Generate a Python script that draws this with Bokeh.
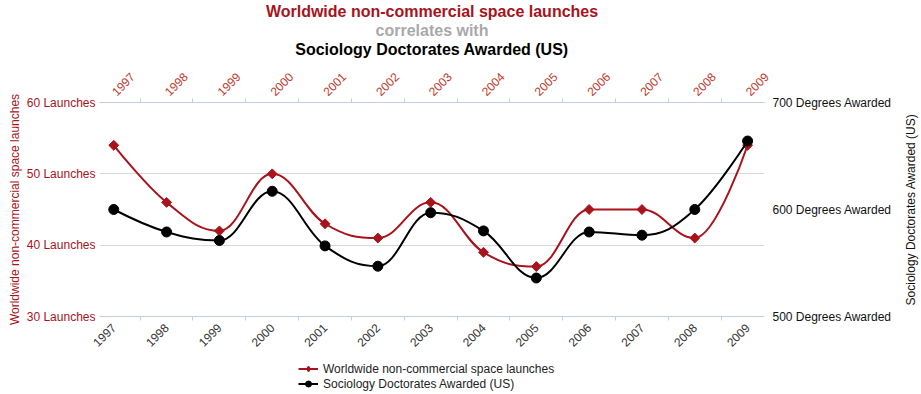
from math import pi
from bokeh.plotting import figure
from bokeh.layouts import row, column
from bokeh.models import (Range1d, LinearAxis, FixedTicker, PrintfTickFormatter, Title,
                          Legend, LegendItem, ColumnDataSource, Label)
from bokeh.embed import file_html
from bokeh.resources import INLINE

years = [1997, 1998, 1999, 2000, 2001, 2002, 2003, 2004, 2005, 2006, 2007, 2008, 2009]
launches = [54, 46, 42, 50, 43, 41, 46, 39, 37, 45, 45, 41, 54]
doctorates = [600, 579, 571, 617, 566, 547, 597, 580, 536, 579, 576, 600, 664]
launch_ticks = [30, 40, 50, 60]
degree_ticks = [500, 600, 700]
series_names = ["Worldwide non-commercial space launches", "Sociology Doctorates Awarded (US)"]

RED = "#a8131c"
AXIS = "#C0D0E0"
FONT = "Liberation Sans"


def spline(xs, ys, smoothing=1.5):
    """Highcharts-style spline control points (rendering geometry only)."""
    n = len(xs)
    lcx = [None] * n; lcy = [None] * n; rcx = [None] * n; rcy = [None] * n
    d = smoothing + 1
    for i in range(1, n - 1):
        px, py = xs[i], ys[i]
        lx, ly = xs[i - 1], ys[i - 1]
        nx, ny = xs[i + 1], ys[i + 1]
        a = (smoothing * px + lx) / d
        b = (smoothing * py + ly) / d
        c = (smoothing * px + nx) / d
        e = (smoothing * py + ny) / d
        corr = ((e - b) * (c - px)) / (c - a) + py - e if c != a else 0
        b += corr; e += corr
        if b > ly and b > py:
            b = max(ly, py); e = 2 * py - b
        elif b < ly and b < py:
            b = min(ly, py); e = 2 * py - b
        if e > ny and e > py:
            e = max(ny, py); b = 2 * py - e
        elif e < ny and e < py:
            e = min(ny, py); b = 2 * py - e
        lcx[i], lcy[i], rcx[i], rcy[i] = a, b, c, e
    out = dict(x0=[], y0=[], x1=[], y1=[], cx0=[], cy0=[], cx1=[], cy1=[])
    for i in range(1, n):
        out["x0"].append(xs[i - 1]); out["y0"].append(ys[i - 1])
        out["x1"].append(xs[i]); out["y1"].append(ys[i])
        out["cx0"].append(rcx[i - 1] if rcx[i - 1] is not None else xs[i - 1])
        out["cy0"].append(rcy[i - 1] if rcy[i - 1] is not None else ys[i - 1])
        out["cx1"].append(lcx[i] if lcx[i] is not None else xs[i])
        out["cy1"].append(lcy[i] if lcy[i] is not None else ys[i])
    return ColumnDataSource(out)


TOP, FRAME_H, MAIN_H = 102, 214, 356
x_lo, x_hi = years[0] - 0.27, years[-1] + 0.32
p = figure(frame_width=665, frame_height=FRAME_H, output_backend="svg", toolbar_location=None,
           x_range=Range1d(x_lo, x_hi),
           y_range=Range1d(launch_ticks[0], launch_ticks[-1]),
           title=series_names[0],
           min_border_left=99, min_border_right=135, min_border_top=TOP,
           min_border_bottom=MAIN_H - TOP - FRAME_H)
p.extra_y_ranges = {"deg": Range1d(degree_ticks[0], degree_ticks[-1])}
p.outline_line_color = None
p.background_fill_color = "white"

p.title.text_font = FONT
p.title.text_font_size = "16px"
p.title.text_font_style = "bold"
p.title.text_color = RED
p.title.align = "center"
p.title.standoff = 0

minor = [y + 0.5 for y in years[:-1]]

def style_x(ax, color):
    ax.ticker = FixedTicker(ticks=years, minor_ticks=minor)
    ax.major_tick_line_color = None
    ax.major_tick_out = 0
    ax.minor_tick_line_color = AXIS
    ax.minor_tick_out = 4
    ax.minor_tick_in = 0
    ax.axis_line_color = AXIS
    ax.axis_line_width = 1
    ax.major_label_orientation = pi / 4
    ax.major_label_standoff = 5
    ax.major_label_text_font = FONT
    ax.major_label_text_font_size = "12px"
    ax.major_label_text_color = color

style_x(p.xaxis[0], "#333333")
top = LinearAxis()
style_x(top, "#c0392b")
p.add_layout(top, "above")

# small invisible spacer between the top axis and the titles
p.add_layout(Title(text=" ", text_font=FONT, text_font_size="5px", standoff=0), "above")
for txt, col in [(series_names[1], "black"), ("correlates with", "#a9a9a9")]:
    p.add_layout(Title(text=txt, text_font=FONT, text_font_size="16px", text_font_style="bold",
                       text_color=col, align="center", standoff=0), "above")

ly = p.yaxis[0]
ly.ticker = FixedTicker(ticks=launch_ticks)
ly.formatter = PrintfTickFormatter(format="%d Launches")
ly.axis_line_color = None
ly.major_tick_line_color = None
ly.major_tick_out = 0
ly.minor_tick_line_color = None
ly.major_label_standoff = 4
ly.major_label_text_font = FONT
ly.major_label_text_font_size = "12px"
ly.major_label_text_color = RED
ly.axis_label = series_names[0]
ly.axis_label_text_font = FONT
ly.axis_label_text_font_size = "12px"
ly.axis_label_text_font_style = "normal"
ly.axis_label_text_color = RED
ly.axis_label_standoff = 2

ry = LinearAxis(y_range_name="deg", ticker=FixedTicker(ticks=degree_ticks),
                formatter=PrintfTickFormatter(format="%d Degrees Awarded"))
ry.axis_line_color = None
ry.major_tick_line_color = None
ry.major_tick_out = 0
ry.minor_tick_line_color = None
ry.major_label_standoff = 8
ry.major_label_text_font = FONT
ry.major_label_text_font_size = "12px"
ry.major_label_text_color = "#111111"
p.add_layout(ry, "right")

p.xgrid.visible = False
p.ygrid.ticker = FixedTicker(ticks=launch_ticks[1:-1])
p.ygrid.grid_line_color = "#D8D8D8"

p.bezier(x0="x0", y0="y0", x1="x1", y1="y1", cx0="cx0", cy0="cy0", cx1="cx1", cy1="cy1",
         source=spline(years, launches), line_color=RED, line_width=2)
p.scatter(years, launches, marker="square", angle=pi / 4, size=7, fill_color=RED, line_color=RED)
p.bezier(x0="x0", y0="y0", x1="x1", y1="y1", cx0="cx0", cy0="cy0", cx1="cx1", cy1="cy1",
         source=spline(years, doctorates), line_color="black", line_width=2,
         y_range_name="deg")
p.scatter(years, doctorates, marker="circle", size=10, fill_color="black", line_color="black",
          y_range_name="deg")

# right-hand axis title (reads bottom-to-top), in a narrow strip beside the chart
SIDE_W = 22
p3 = figure(width=SIDE_W, frame_height=FRAME_H, output_backend="svg", toolbar_location=None,
            x_range=Range1d(0, 1), y_range=Range1d(0, 1),
            min_border_left=0, min_border_right=0, min_border_top=TOP,
            min_border_bottom=MAIN_H - TOP - FRAME_H,
            x_axis_location=None, y_axis_location=None)
p3.outline_line_color = None
p3.grid.visible = False
p3.add_layout(Label(x=0.5, y=0.5, text=series_names[1], angle=pi / 2,
                    text_align="center", text_baseline="middle", text_font=FONT,
                    text_font_size="12px", text_color="#111111"))

# legend strip below the chart (its renderers sit outside the strip's visible range)
LEG_H = 38
p2 = figure(width=899 + SIDE_W, height=LEG_H, output_backend="svg", toolbar_location=None,
            x_range=Range1d(0, 1), y_range=Range1d(0, 1), min_border=0,
            x_axis_location=None, y_axis_location=None)
p2.outline_line_color = None
p2.grid.visible = False
l1 = p2.line(years, launches, line_color=RED, line_width=2)
m1 = p2.scatter(years, launches, marker="diamond", size=9, fill_color=RED, line_color=RED)
l2 = p2.line(years, doctorates, line_color="black", line_width=2)
m2 = p2.scatter(years, doctorates, marker="circle", size=10, fill_color="black", line_color="black")
legend = Legend(items=[LegendItem(label=series_names[0], renderers=[l1, m1]),
                       LegendItem(label=series_names[1], renderers=[l2, m2])],
                location=(298, 3), orientation="vertical", border_line_color=None,
                background_fill_alpha=0, label_text_font=FONT, label_text_font_size="12px",
                label_text_color="#222222",
                glyph_width=20, glyph_height=15, label_height=15, spacing=0, padding=2, margin=0,
                label_standoff=5)
p2.add_layout(legend, "center")

layout = column(row(p, p3, spacing=0), p2, spacing=0)
open("out.html", "w").write(file_html(layout, INLINE))
